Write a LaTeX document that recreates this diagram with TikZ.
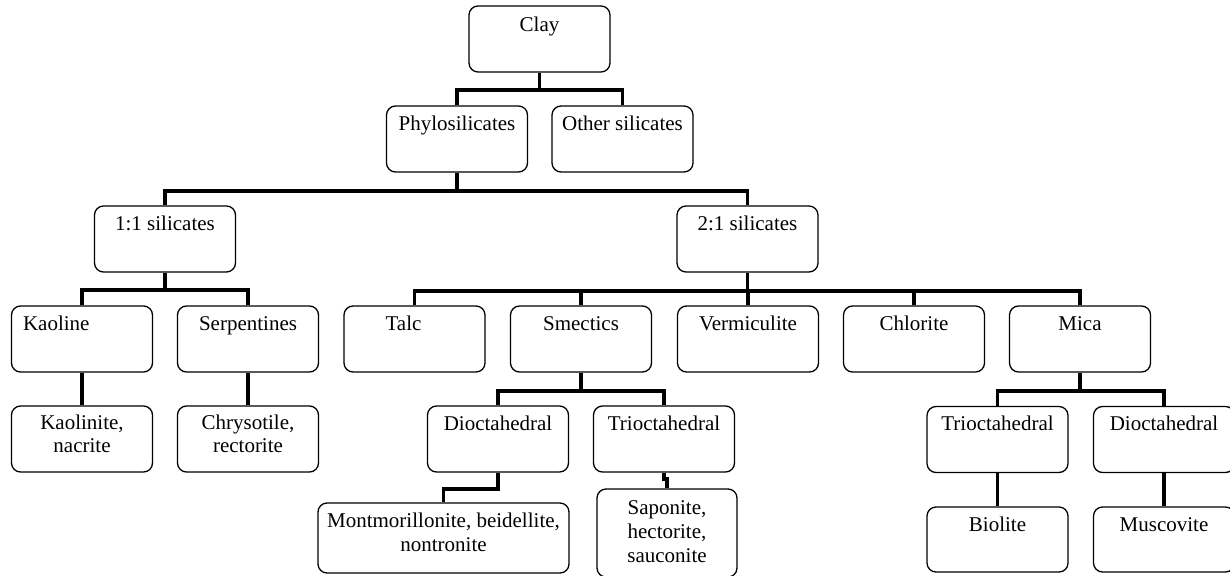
\documentclass[tikz,border=0pt]{standalone}
\usepackage{fontspec}
\setmainfont{Liberation Serif}
\begin{document}
\begin{tikzpicture}[x=1pt,y=1pt,
  box/.style={draw, line width=1.3pt, rounded corners=9pt, minimum width=141pt,
              minimum height=66pt, inner sep=0pt},
  txt/.style={anchor=base, align=center, inner sep=0pt,
              font=\fontsize{21}{24}\selectfont},
  conn/.style={line width=3.8pt, line join=miter}]
\useasboundingbox (0,0) rectangle (1230,-575);

% level 0 and 1
\node[box] (clay)  at (539.5,-39) {};
\node[txt] (clayT) at ([yshift=-26pt]clay.north) {Clay};
\node[box] (phylo) at (457,-139) {};
\node[txt] (phyloT) at ([yshift=-25pt]phylo.north) {Phylosilicates};
\node[box] (other) at (622.5,-139) {};
\node[txt] (otherT) at ([yshift=-25pt]other.north) {Other silicates};

% level 2
\node[box] (s11) at (165,-239) {};
\node[txt] (s11T) at ([yshift=-25pt]s11.north) {1:1 silicates};
\node[box] (s21) at (747.5,-239) {};
\node[txt] (s21T) at ([yshift=-25pt]s21.north) {2:1 silicates};

% level 3
\node[box] (kaoline) at (82,-339) {};
\node[txt, anchor=base west] (kaolineT) at ([xshift=12pt,yshift=-25pt]kaoline.north west) {Kaoline};
\node[box] (serp) at (248,-339) {};
\node[txt] (serpT) at ([yshift=-25pt]serp.north) {Serpentines};
\node[box] (talc) at (414.5,-339) {};
\node[txt] (talcT) at ([xshift=-11pt,yshift=-25pt]talc.north) {Talc};
\node[box] (smect) at (581,-339) {};
\node[txt] (smectT) at ([yshift=-25pt]smect.north) {Smectics};
\node[box] (verm) at (748,-339) {};
\node[txt] (vermT) at ([yshift=-25pt]verm.north) {Vermiculite};
\node[box] (chlor) at (914,-339) {};
\node[txt] (chlorT) at ([yshift=-25pt]chlor.north) {Chlorite};
\node[box] (mica) at (1080,-339) {};
\node[txt] (micaT) at ([yshift=-25pt]mica.north) {Mica};

% level 4 (base of a multi-line label is its last line)
\node[box] (kaolinite) at (82,-439) {};
\node[txt, font=\fontsize{21}{23}\selectfont] (kaoliniteT) at ([yshift=-47pt]kaolinite.north) {Kaolinite,\\nacrite};
\node[box] (chrys) at (248,-439) {};
\node[txt, font=\fontsize{21}{23}\selectfont] (chrysT) at ([yshift=-47pt]chrys.north) {Chrysotile,\\rectorite};
\node[box] (sdio) at (498,-439) {};
\node[txt] (sdioT) at ([yshift=-25pt]sdio.north) {Dioctahedral};
\node[box] (stri) at (664,-439) {};
\node[txt] (striT) at ([yshift=-25pt]stri.north) {Trioctahedral};
\node[box] (mtri) at (997.5,-439.5) {};
\node[txt] (mtriT) at ([yshift=-25pt]mtri.north) {Trioctahedral};
\node[box] (mdio) at (1164,-439.5) {};
\node[txt] (mdioT) at ([yshift=-25pt]mdio.north) {Dioctahedral};

% level 5
\node[box, minimum width=251pt, minimum height=70pt] (montm) at (443.5,-538) {};
\node[txt] (montmT) at ([yshift=-49pt]montm.north) {Montmorillonite, beidellite,\\nontronite};
\node[box, minimum width=140pt, minimum height=88pt] (sapon) at (667,-533) {};
\node[txt] (saponT) at ([yshift=-74pt]sapon.north) {Saponite,\\hectorite,\\sauconite};
\node[box, minimum height=65pt] (biolite) at (997.5,-539.5) {};
\node[txt] (bioliteT) at ([yshift=-25pt]biolite.north) {Biolite};
\node[box, minimum height=65pt] (muscov) at (1164,-539.5) {};
\node[txt] (muscovT) at ([yshift=-25pt]muscov.north) {Muscovite};

% connectors
\draw[conn] (clay.south) -- ++(0,-17) coordinate (jClay);
\draw[conn] (phylo.north) |- (jClay) -| (other.north);

\draw[conn] (phylo.south) -- ++(0,-18) coordinate (jPhylo);
\draw[conn] (s11.north) |- (jPhylo) -| (s21.north);

\draw[conn] (s11.south) -- ++(0,-17) coordinate (jS11);
\draw[conn] (kaoline.north) |- (jS11) -| (serp.north);

\draw[conn] (s21.south) -- ++(0,-18) coordinate (jS21);
\draw[conn] (talc.north) |- (jS21) -| (mica.north);
\draw[conn] (smect.north) -- (smect.north |- jS21);
\draw[conn] (verm.north) -- (verm.north |- jS21);
\draw[conn] (chlor.north) -- (chlor.north |- jS21);

\draw[conn] (kaoline.south) -- (kaolinite.north);
\draw[conn] (serp.south) -- (chrys.north);

\draw[conn] (smect.south) -- ++(0,-18) coordinate (jSmect);
\draw[conn] (sdio.north) |- (jSmect) -| (stri.north);
\draw[conn] (sdio.south) -- ++(0,-16) -| (montm.north);
\draw[conn] (stri.south) -- ++(0,-6) -| (sapon.north);

\draw[conn] (mica.south) -- ++(0,-18) coordinate (jMica);
\draw[conn] (mtri.north) |- (jMica) -| (mdio.north);
\draw[conn] (mtri.south) -- (biolite.north);
\draw[conn] (mdio.south) -- (muscov.north);
\end{tikzpicture}
\end{document}
